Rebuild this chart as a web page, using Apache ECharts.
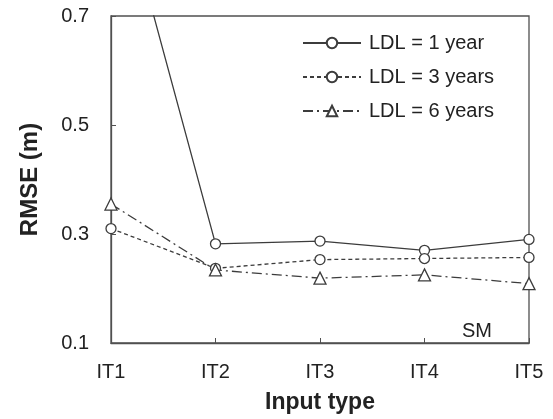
<!DOCTYPE html>
<html>
<head>
<meta charset="utf-8">
<script src="https://cdn.jsdelivr.net/npm/echarts@6/dist/echarts.min.js"></script>
<style>
html,body{margin:0;padding:0;background:#fff;}
#chart{width:553px;height:419px;}
</style>
</head>
<body>
<div id="chart"></div>
<script>
var categories = ['IT1', 'IT2', 'IT3', 'IT4', 'IT5'];
var ldl1 = [0.99, 0.282, 0.287, 0.270, 0.290];
var ldl3 = [0.310, 0.237, 0.253, 0.255, 0.257];
var ldl6 = [0.355, 0.234, 0.219, 0.225, 0.209];
var seriesNames = ['LDL = 1 year', 'LDL = 3 years', 'LDL = 6 years'];
var yTicks = [0.1, 0.3, 0.5, 0.7];

var font = 'Liberation Sans, Arial, sans-serif';
var lineColor = '#3c3c3c';
var chart = echarts.init(document.getElementById('chart'), null, {renderer: 'canvas'});

function mkSeries(name, data, symbol, dash) {
  return {
    name: name,
    type: 'line',
    data: data,
    symbol: symbol,
    symbolSize: symbol === 'triangle' ? 12 : 10,
    showAllSymbol: true,
    clip: true,
    lineStyle: {color: lineColor, width: 1.3, type: dash},
    itemStyle: {color: '#fff', borderColor: lineColor, borderWidth: 1.3},
    emphasis: {disabled: true},
    z: 3
  };
}

chart.setOption({
  animation: false,
  backgroundColor: '#fff',
  grid: {left: 111, top: 16, right: 24, bottom: 74, show: true, borderColor: '#505050', borderWidth: 1.3, backgroundColor: 'transparent'},
  legend: {
    left: 302, top: 33, orient: 'vertical', padding: 0,
    itemWidth: 58, itemHeight: 13, itemGap: 14,
    textStyle: {fontFamily: font, fontSize: 20, color: '#222', padding: [0, 0, 0, 3]},
    data: seriesNames
  },
  xAxis: {
    type: 'category', data: categories, boundaryGap: false,
    axisLine: {lineStyle: {color: '#505050', width: 1.3}},
    axisTick: {inside: true, length: 5, lineStyle: {color: '#505050'}},
    axisLabel: {fontFamily: font, fontSize: 20, color: '#222', margin: 19},
    name: 'Input type', nameLocation: 'middle', nameGap: 48,
    nameTextStyle: {fontFamily: font, fontSize: 23, fontWeight: 'bold', color: '#222'}
  },
  yAxis: {
    type: 'value', min: yTicks[0], max: yTicks[yTicks.length - 1], interval: 0.2,
    axisLine: {show: true, lineStyle: {color: '#505050', width: 1.3}},
    axisTick: {show: true, inside: true, length: 5, lineStyle: {color: '#505050'}},
    splitLine: {show: false},
    axisLabel: {fontFamily: font, fontSize: 20, color: '#222', margin: 22,
      formatter: function (v) { return v.toFixed(1); }},
    name: 'RMSE (m)', nameLocation: 'middle', nameGap: 69,
    nameTextStyle: {fontFamily: font, fontSize: 24, fontWeight: 'bold', color: '#222'}
  },
  graphic: [{
    type: 'text', left: 462, top: 321,
    style: {text: 'SM', font: '20px ' + font, fill: '#222'}
  }],
  series: [
    mkSeries(seriesNames[0], ldl1, 'circle', 'solid'),
    mkSeries(seriesNames[1], ldl3, 'circle', [4, 3]),
    mkSeries(seriesNames[2], ldl6, 'triangle', [10, 4, 2, 4])
  ]
});
</script>
</body>
</html>
